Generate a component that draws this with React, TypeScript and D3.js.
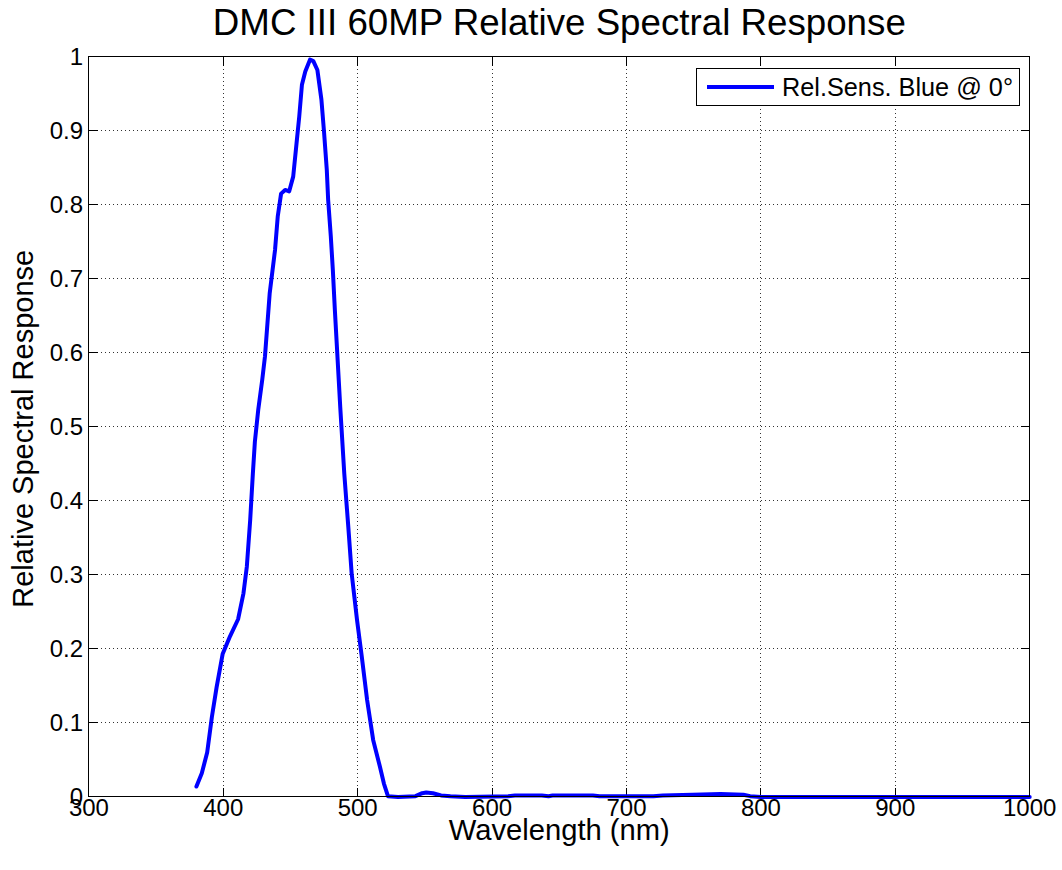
import React from "react";
import * as d3 from "d3";

const wavelengths = [
  380, 384, 388, 391.5, 395, 399.5, 405, 411, 415, 417.5, 420, 422, 423.5, 426, 429, 431,
  434.5, 438.5, 440.5, 443, 446, 449, 452, 454.5, 456.5, 458.5, 461, 464.5, 467, 470, 473,
  475, 477, 478, 480, 481.5, 483, 484.5, 487, 490, 493, 495.5, 499.5, 503, 507, 511.5,
  516.5, 519.5, 522.5, 530, 543, 548, 551, 556, 562, 569, 580, 612, 617, 637, 642, 645,
  675, 680, 720, 727, 749, 770, 787, 792, 800, 900, 1000,
];
const relSensBlue = [
  0.014, 0.032, 0.06, 0.108, 0.148, 0.193, 0.217, 0.24, 0.275, 0.311, 0.374, 0.437, 0.48,
  0.523, 0.564, 0.595, 0.68, 0.739, 0.784, 0.815, 0.82, 0.818, 0.838, 0.883, 0.919, 0.962,
  0.98, 0.996, 0.994, 0.982, 0.942, 0.897, 0.847, 0.807, 0.757, 0.712, 0.658, 0.609, 0.527,
  0.437, 0.365, 0.302, 0.239, 0.19, 0.131, 0.077, 0.041, 0.018, 0.001, 0, 0.001, 0.005,
  0.006, 0.005, 0.002, 0.001, 0, 0.001, 0.002, 0.002, 0.001, 0.002, 0.002, 0.001, 0.001,
  0.002, 0.003, 0.004, 0.003, 0.001, 0, 0, 0,
];
const xTicks = [300, 400, 500, 600, 700, 800, 900, 1000];
const yTicks = [0, 0.1, 0.2, 0.3, 0.4, 0.5, 0.6, 0.7, 0.8, 0.9, 1];
const yTickLabels = ["0", "0.1", "0.2", "0.3", "0.4", "0.5", "0.6", "0.7", "0.8", "0.9", "1"];
const titleText = "DMC III 60MP Relative Spectral Response";
const xLabel = "Wavelength (nm)";
const yLabel = "Relative Spectral Response";
const legendLabel = "Rel.Sens. Blue @ 0°";

const W = 1062;
const H = 870;
const left = 88.9;
const right = 1029.7;
const top = 56.7;
const bottom = 796.9;
const FONT = "'Liberation Sans', Arial, Helvetica, sans-serif";

export default function App() {
  const x = d3.scaleLinear().domain([300, 1000]).range([left, right]);
  const y = d3.scaleLinear().domain([0, 1]).range([bottom, top]);
  const data = wavelengths.map((w, i) => [w, relSensBlue[i]] as [number, number]);
  const line = d3
    .line<[number, number]>()
    .x((d) => x(d[0]))
    .y((d) => y(d[1]));
  const tickLen = 9;

  return (
    <svg
      width={W}
      height={H}
      style={{ position: "absolute", left: 0, top: 0, background: "#fff" }}
      fontFamily={FONT}
    >
      <rect x={0} y={0} width={W} height={H} fill="#fff" />
      {/* grid */}
      {xTicks.slice(1, -1).map((t) => (
        <line
          key={"gx" + t}
          x1={x(t)}
          x2={x(t)}
          y1={top}
          y2={bottom}
          stroke="#333"
          strokeWidth={1}
          strokeDasharray="1,3"
          shapeRendering="crispEdges"
        />
      ))}
      {yTicks.slice(1, -1).map((t) => (
        <line
          key={"gy" + t}
          x1={left}
          x2={right}
          y1={y(t)}
          y2={y(t)}
          stroke="#333"
          strokeWidth={1}
          strokeDasharray="1,3"
          shapeRendering="crispEdges"
        />
      ))}
      {/* ticks */}
      {xTicks.map((t) => (
        <g key={"tx" + t}>
          <line x1={x(t)} x2={x(t)} y1={bottom} y2={bottom - tickLen} stroke="#000" shapeRendering="crispEdges" />
          <line x1={x(t)} x2={x(t)} y1={top} y2={top + tickLen} stroke="#000" shapeRendering="crispEdges" />
          <text x={x(t)} y={816} fontSize={24} textAnchor="middle" fill="#000">
            {t}
          </text>
        </g>
      ))}
      {yTicks.map((t, i) => (
        <g key={"ty" + t}>
          <line x1={left} x2={left + tickLen} y1={y(t)} y2={y(t)} stroke="#000" shapeRendering="crispEdges" />
          <line x1={right} x2={right - tickLen} y1={y(t)} y2={y(t)} stroke="#000" shapeRendering="crispEdges" />
          <text x={83} y={y(t) + 8.5} fontSize={24} textAnchor="end" fill="#000">
            {yTickLabels[i]}
          </text>
        </g>
      ))}
      {/* data line */}
      <path d={line(data) || ""} fill="none" stroke="#0000ff" strokeWidth={4} strokeLinejoin="round" strokeLinecap="round" />
      {/* frame */}
      <rect x={left} y={top} width={right - left} height={bottom - top} fill="none" stroke="#000" strokeWidth={1} shapeRendering="crispEdges" />
      {/* legend */}
      <rect x={696.5} y={68.5} width={323} height={37} fill="#fff" stroke="#000" strokeWidth={1} shapeRendering="crispEdges" />
      <line x1={707} x2={774} y1={87} y2={87} stroke="#0000ff" strokeWidth={4} />
      <text x={782} y={96} fontSize={25} fill="#000" textLength={231} lengthAdjust="spacingAndGlyphs">
        {legendLabel}
      </text>
      {/* title */}
      <text x={(left + right) / 2} y={35} fontSize={36} textAnchor="middle" fill="#000" textLength={693} lengthAdjust="spacingAndGlyphs">
        {titleText}
      </text>
      {/* axis labels */}
      <text x={(left + right) / 2} y={840} fontSize={29} textAnchor="middle" fill="#000" textLength={221} lengthAdjust="spacingAndGlyphs">
        {xLabel}
      </text>
      <text
        transform={`translate(33, ${(top + bottom) / 2 + 2}) rotate(-90)`}
        fontSize={29}
        textAnchor="middle"
        fill="#000"
        textLength={358}
        lengthAdjust="spacingAndGlyphs"
      >
        {yLabel}
      </text>
    </svg>
  );
}
